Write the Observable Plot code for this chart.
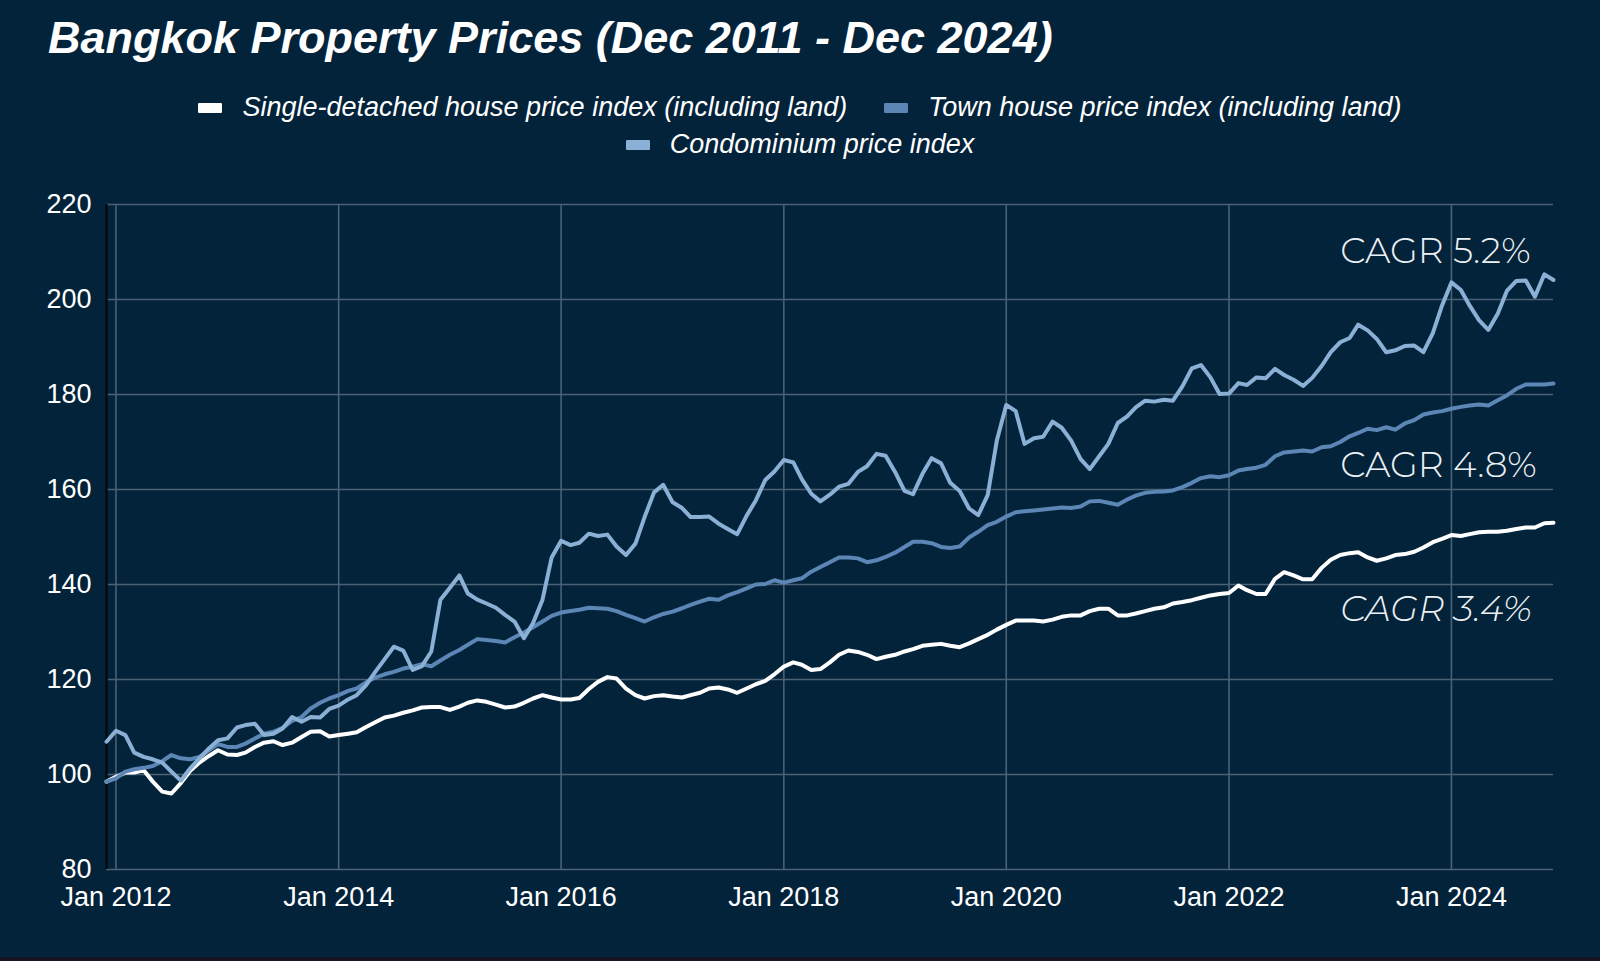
<!DOCTYPE html>
<html>
<head>
<meta charset="utf-8">
<script src="https://cdn.jsdelivr.net/npm/d3@7"></script>
<script src="https://cdn.jsdelivr.net/npm/@observablehq/plot@0.6"></script>
<style>
  html, body { margin: 0; padding: 0; }
  body { width: 1600px; height: 961px; background: #03233a; position: relative; overflow: hidden;
         font-family: "Liberation Sans", Arial, sans-serif; color: #fff; }
  #title { position: absolute; left: 48px; top: 15px; font-size: 45px; line-height: 45px;
           font-weight: bold; font-style: italic; white-space: nowrap; }
  #legend { position: absolute; left: 150px; width: 1300px; top: 89px; display: flex; flex-wrap: wrap;
            justify-content: center; column-gap: 37px; font-size: 27px; line-height: 37px; font-style: italic; }
  .item { display: flex; align-items: center; white-space: nowrap; }
  .sw { display: inline-block; width: 24px; height: 10px; margin-right: 20px; border-radius: 1px; }
  #chart { position: absolute; left: 0; top: 170px; }
  #strip { position: absolute; left: 0; bottom: 0; width: 1600px; height: 4px; background: #171320; }
</style>
</head>
<body>
<div id="title"></div>
<div id="legend"></div>
<div id="chart"></div>
<div id="strip"></div>
<script>
const titleText = "Bangkok Property Prices (Dec 2011 - Dec 2024)";
const seriesNames = [
  "Single-detached house price index (including land)",
  "Town house price index (including land)",
  "Condominium price index"
];
const seriesColors = ["#ffffff", "#5b86b5", "#8ab0d5"];

// Monthly index values, Dec 2011 .. Dec 2024
const singleDetached = [
  98.5, 99.5, 100.4, 100.4, 100.9, 98.5, 96.4, 96.0, 98.2, 100.8, 102.5, 103.9, 105.1,
  104.2, 104.1, 104.6, 105.8, 106.7, 107.0, 106.2, 106.7, 107.9, 109.0, 109.1, 108.0,
  108.3, 108.6, 108.9, 110.0, 111.0, 112.0, 112.4, 113.0, 113.5, 114.1, 114.2, 114.2,
  113.6, 114.3, 115.1, 115.6, 115.3, 114.7, 114.1, 114.3, 115.1, 116.0, 116.7, 116.2,
  115.8, 115.8, 116.1, 118.0, 119.5, 120.5, 120.2, 118.1, 116.7, 116.0, 116.5, 116.7,
  116.4, 116.2, 116.7, 117.2, 118.1, 118.3, 117.9, 117.2, 118.1, 119.0, 119.7, 121.1,
  122.7, 123.6, 123.1, 122.0, 122.2, 123.6, 125.2, 126.1, 125.8, 125.2, 124.3, 124.8,
  125.2, 125.9, 126.4, 127.1, 127.3, 127.5, 127.1, 126.8, 127.6, 128.5, 129.4, 130.5,
  131.5, 132.4, 132.4, 132.4, 132.2, 132.6, 133.2, 133.5, 133.5, 134.4, 134.9, 134.9,
  133.5, 133.5, 133.9, 134.4, 134.9, 135.2, 136.0, 136.3, 136.7, 137.2, 137.7, 138.0,
  138.2, 139.8, 138.8, 138.0, 138.0, 141.2, 142.6, 141.9, 141.1, 141.1, 143.5, 145.2,
  146.2, 146.6, 146.8, 145.7, 145.0, 145.5, 146.2, 146.4, 146.9, 147.8, 148.9, 149.6,
  150.4, 150.2, 150.6, 151.0, 151.1, 151.1, 151.3, 151.7, 152.0, 152.0, 152.9, 153.0
];
const townHouse = [
  98.5, 99.2, 100.6, 101.1, 101.4, 101.8, 102.8, 104.1, 103.4, 103.2, 103.7, 105.1, 106.4,
  105.8, 105.8, 106.5, 107.6, 108.6, 109.0, 109.8, 111.3, 112.1, 113.9, 115.1, 116.0,
  116.7, 117.6, 118.1, 119.4, 120.4, 121.1, 121.6, 122.3, 122.7, 123.2, 122.8, 124.0,
  125.2, 126.2, 127.3, 128.5, 128.3, 128.1, 127.8, 128.9, 129.9, 131.0, 132.2, 133.4,
  134.1, 134.4, 134.7, 135.1, 135.0, 134.9, 134.4, 133.6, 132.9, 132.2, 133.1, 133.8,
  134.3, 135.0, 135.7, 136.4, 137.0, 136.8, 137.7, 138.4, 139.2, 140.0, 140.1, 140.9,
  140.4, 140.9, 141.3, 142.7, 143.7, 144.7, 145.7, 145.7, 145.5, 144.7, 145.1, 145.8,
  146.7, 147.9, 149.0, 149.0, 148.7, 147.9, 147.7, 148.0, 149.9, 151.1, 152.5, 153.2,
  154.3, 155.2, 155.4, 155.6, 155.8, 156.0, 156.2, 156.1, 156.4, 157.5, 157.6, 157.2,
  156.8, 157.9, 158.7, 159.3, 159.5, 159.6, 159.8, 160.5, 161.4, 162.4, 162.8, 162.6,
  163.0, 164.0, 164.3, 164.6, 165.2, 167.0, 167.8, 168.0, 168.2, 168.0, 168.9, 169.1,
  170.0, 171.2, 171.9, 172.8, 172.5, 173.1, 172.6, 173.9, 174.6, 175.8, 176.2, 176.5,
  177.0, 177.4, 177.7, 177.9, 177.7, 178.8, 179.8, 181.2, 182.1, 182.1, 182.1, 182.3
];
const condominium = [
  106.9, 109.2, 108.3, 104.6, 103.7, 103.2, 102.5, 100.6, 98.7, 101.3, 103.4, 105.5, 107.2,
  107.6, 109.9, 110.4, 110.7, 108.3, 108.6, 109.7, 112.1, 111.1, 112.1, 112.0, 113.8,
  114.5, 115.8, 116.7, 118.8, 121.6, 124.3, 126.9, 126.1, 122.0, 122.8, 125.9, 136.8,
  139.3, 141.9, 138.1, 136.8, 136.0, 135.1, 133.6, 132.2, 128.7, 131.9, 136.8, 145.7,
  149.2, 148.3, 148.8, 150.7, 150.2, 150.5, 148.0, 146.2, 148.6, 154.2, 159.4, 161.0,
  157.3, 156.1, 154.2, 154.2, 154.3, 152.8, 151.7, 150.6, 154.5, 157.7, 162.0, 163.8,
  166.2, 165.7, 162.2, 159.1, 157.5, 158.9, 160.6, 161.2, 163.7, 164.9, 167.5, 167.1,
  163.7, 159.7, 159.0, 163.3, 166.6, 165.5, 161.4, 159.7, 156.0, 154.6, 158.8, 170.3,
  177.8, 176.5, 169.6, 170.8, 171.1, 174.3, 173.0, 170.3, 166.4, 164.3, 167.0, 169.6,
  174.0, 175.4, 177.3, 178.7, 178.5, 178.9, 178.7, 181.7, 185.5, 186.2, 183.6, 180.1,
  180.2, 182.4, 182.0, 183.6, 183.4, 185.4, 184.1, 183.1, 181.8, 183.5, 186.0, 188.9,
  191.0, 191.9, 194.7, 193.5, 191.7, 188.9, 189.3, 190.2, 190.3, 188.9, 192.9, 198.7,
  203.6, 202.0, 198.7, 195.6, 193.6, 197.0, 201.8, 203.9, 204.0, 200.6, 205.3, 204.1
];
const yTicks = [80, 100, 120, 140, 160, 180, 200, 220];
const xTickYears = [2012, 2014, 2016, 2018, 2020, 2022, 2024];
// CAGR annotations: label, anchor month, anchor index level
const annLabels = ["CAGR 5.2%", "CAGR 4.8%", "CAGR 3.4%"];
const annMonths = ["2023-01", "2023-01", "2023-01"];
const annLevels = [210.2, 165.0, 134.7];
const annItalic = [false, false, true];

// ---- build tables ----
const months = d3.utcMonths(new Date(Date.UTC(2011, 11, 1)), new Date(Date.UTC(2025, 0, 1)));
const seriesValues = [singleDetached, townHouse, condominium];
const rows = [];
seriesValues.forEach((vals, si) => vals.forEach((v, i) => rows.push({date: months[i], value: v, series: seriesNames[si]})));
const xTicks = xTickYears.map(y => new Date(Date.UTC(y, 0, 1)));
const parseM = d3.utcParse("%Y-%m");
const ann = annLabels.map((t, i) => ({label: t, date: parseM(annMonths[i]), value: annLevels[i], italic: annItalic[i]}));

document.getElementById("title").textContent = titleText;
const legend = document.getElementById("legend");
seriesNames.forEach((n, i) => {
  const it = document.createElement("div"); it.className = "item";
  const sw = document.createElement("span"); sw.className = "sw"; sw.style.background = seriesColors[i];
  const tx = document.createElement("span"); tx.textContent = n;
  it.appendChild(sw); it.appendChild(tx); legend.appendChild(it);
});

const gridColor = "#4b6174";
const annFont = "Montserrat, Lato, 'Open Sans', sans-serif";
const chart = Plot.plot({
  width: 1600, height: 791,
  marginTop: 34, marginBottom: 92, marginLeft: 106, marginRight: 47,
  style: {background: "transparent", color: "#ffffff", fontFamily: "'Liberation Sans', Arial, sans-serif", fontSize: "27px", overflow: "visible"},
  x: {type: "utc", domain: [months[0], months[months.length - 1]], ticks: xTicks, tickFormat: d3.utcFormat("%b %Y"), label: null, tickSize: 0, tickPadding: 17},
  y: {domain: [80, 220], ticks: yTicks, label: null, tickSize: 0, tickPadding: 15},
  color: {domain: seriesNames, range: seriesColors},
  marks: [
    Plot.gridX(xTicks, {stroke: gridColor, strokeOpacity: 1, strokeWidth: 1.6}),
    Plot.gridY(yTicks, {stroke: gridColor, strokeOpacity: 1, strokeWidth: 1.6}),
    Plot.ruleX([months[0]], {stroke: "#050b10", strokeWidth: 2.5}),
    Plot.lineY(rows, {x: "date", y: "value", z: "series", stroke: "series", strokeWidth: 4, strokeLinejoin: "round", strokeLinecap: "round"}),
    Plot.text(ann.filter(d => !d.italic), {x: "date", y: "value", text: "label", textAnchor: "start", fill: "#eef1f4", fontSize: 36, fontWeight: 300, fontFamily: annFont}),
    Plot.text(ann.filter(d => d.italic), {x: "date", y: "value", text: "label", textAnchor: "start", fill: "#eef1f4", fontSize: 36, fontWeight: 300, fontStyle: "italic", fontFamily: annFont})
  ]
});
document.getElementById("chart").appendChild(chart);
</script>
</body>
</html>
